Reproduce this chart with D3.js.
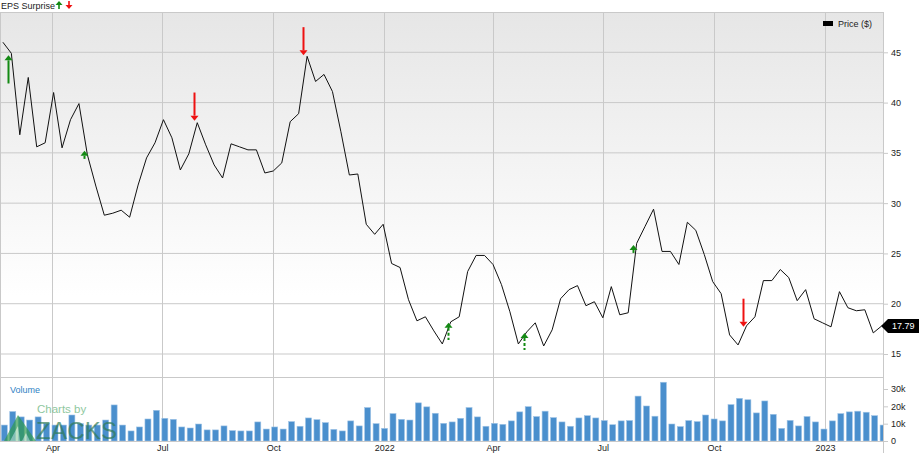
<!DOCTYPE html>
<html>
<head>
<meta charset="utf-8">
<script src="https://cdn.jsdelivr.net/npm/d3@7"></script>
<style>
html,body{margin:0;padding:0;background:#fff;}
svg{display:block;font-family:"Liberation Sans",Arial,sans-serif;}
</style>
</head>
<body>
<svg id="chart" width="920" height="453"></svg>
<script>
// ---- data ----
const startWeek = "2021-02-19";
const price = [46.0,44.9,36.8,42.5,35.6,36.0,41.0,35.5,38.3,39.9,
  34.8,31.7,28.8,29.0,29.3,28.6,31.8,34.5,36.0,38.3,
  36.5,33.3,34.9,38.0,35.8,33.8,32.5,35.9,35.6,35.3,
  35.3,33.0,33.2,34.0,38.1,38.9,44.6,42.1,42.8,41.1,
  37.1,32.8,32.9,27.9,26.9,27.9,24.0,23.6,20.4,18.3,
  18.7,17.3,16.0,18.2,18.7,23.2,24.8,24.8,23.9,21.9,
  19.2,16.0,17.2,18.1,15.8,17.4,20.5,21.4,21.8,19.8,
  20.2,18.6,21.7,18.9,19.1,26.0,27.7,29.4,25.2,25.2,
  23.9,28.1,27.3,24.9,22.2,21.0,16.9,15.9,17.8,18.7,
  22.3,22.3,23.4,22.6,20.3,21.4,18.5,18.1,17.7,21.2,
  19.6,19.3,19.4,17.1,17.79];
const volume = [9.2,17.0,13.9,12.1,13.9,10.2,9.2,9.2,15.0,10.0,
  9.2,9.2,12.1,20.8,9.2,5.8,8.1,12.7,17.7,13.1,
  12.5,8.1,7.5,9.8,6.4,6.4,8.7,6.0,5.8,5.8,
  11.0,6.9,8.1,6.9,11.2,8.5,13.3,12.3,10.6,6.7,
  5.8,11.6,8.7,19.3,10.0,7.3,15.8,12.5,12.1,22.0,
  19.7,16.0,10.2,11.0,13.1,19.3,13.9,8.5,10.2,9.6,
  11.6,16.8,19.8,14.1,17.2,13.5,11.0,8.5,13.3,14.6,
  13.3,11.8,9.4,11.6,11.8,25.9,20.2,14.3,33.9,9.8,
  8.3,11.8,11.2,15.0,12.7,11.6,21.0,24.6,23.8,16.2,
  23.1,15.4,7.3,11.9,8.7,14.1,11.0,6.9,11.6,15.8,
  16.8,17.2,16.6,14.6,9.2]; // thousands
const epsDates = ["2021-02-23","2021-04-27","2021-07-27","2021-10-26","2022-02-23","2022-04-27","2022-07-26","2022-10-25"];
const epsDir   = ["up","up","down","down","up","up","up","down"];
const epsStyle = ["solid","solid","solid","solid","dashed","dashed","solid","solid"];
const epsTip   = [44.7,35.2,38.2,44.7,18.1,17.1,25.85,17.7];
const epsSize  = [2.8,0.8,2.8,2.8,1.7,1.7,0.8,2.8];
const priceTicks = [15,20,25,30,35,40,45];
const volTicks = [0,10000,20000,30000];
const volTickLabels = ["0","10k","20k","30k"];
const xTickDates = ["2021-04-01","2021-07-01","2021-10-01","2022-01-01","2022-04-01","2022-07-01","2022-10-01","2023-01-01"];
const xTickLabels = ["Apr","Jul","Oct","2022","Apr","Jul","Oct","2023"];
const lastPriceLabel = "17.79";

// ---- setup ----
const parse = d3.timeParse("%Y-%m-%d");
const d0 = parse(startWeek);
const dates = price.map((_, i) => d3.timeDay.offset(d0, 7 * i));
const svg = d3.select("#chart");
const L = 0, R = 883, T = 12, PB = 377, VB = 441;
const GRID = "#c9c9c9";

const x = d3.scaleTime().domain([dates[0], dates[dates.length - 1]]).range([2.9, 881.7]);
const y = d3.scaleLinear().domain([15, 45]).range([354, 52.3]);
const yv = d3.scaleLinear().domain([0, 30000]).range([VB, 389]);

const defs = svg.append("defs");
const grad = defs.append("linearGradient").attr("id", "bg").attr("x1", 0).attr("y1", 0).attr("x2", 0).attr("y2", 1);
grad.append("stop").attr("offset", "0%").attr("stop-color", "#e6e6e6");
grad.append("stop").attr("offset", "78%").attr("stop-color", "#ffffff");
grad.append("stop").attr("offset", "100%").attr("stop-color", "#ffffff");
defs.append("clipPath").attr("id", "clip").append("rect").attr("x", L).attr("y", T).attr("width", R - L).attr("height", VB - T);

svg.append("rect").attr("x", L).attr("y", T).attr("width", R - L).attr("height", PB - T).attr("fill", "url(#bg)");

// horizontal grid
svg.append("g").selectAll("line").data(priceTicks).join("line")
  .attr("x1", L).attr("x2", R).attr("y1", d => y(d)).attr("y2", d => y(d))
  .attr("stroke", GRID).attr("stroke-width", 1);
// vertical grid
svg.append("g").selectAll("line").data(xTickDates).join("line")
  .attr("x1", d => Math.round(x(parse(d))) + 0.5).attr("x2", d => Math.round(x(parse(d))) + 0.5)
  .attr("y1", T).attr("y2", VB)
  .attr("stroke", GRID).attr("stroke-width", 1);
// frame lines
[T, PB, VB].forEach(v => svg.append("line").attr("x1", L).attr("x2", R).attr("y1", v + 0.5).attr("y2", v + 0.5).attr("stroke", GRID));
svg.append("line").attr("x1", 0.5).attr("x2", 0.5).attr("y1", T).attr("y2", VB).attr("stroke", GRID);

// volume bars
svg.append("g").attr("clip-path", "url(#clip)").selectAll("rect").data(volume).join("rect")
  .attr("x", (d, i) => x(dates[i]) - 1.6)
  .attr("width", 6)
  .attr("y", d => yv(d * 1000))
  .attr("height", d => VB - yv(d * 1000))
  .attr("fill", "#4a8fcd")
  .attr("stroke", "#9fc4e6").attr("stroke-width", 0.6);

// Zacks watermark (over the bars, semi-transparent)
const wm = svg.append("g").attr("opacity", 0.68);
wm.append("path").attr("d", "M4,441 L18,415 L36,441 Z").attr("fill", "#2f9a4c");
wm.append("path").attr("d", "M10,441 L18,426 L20,441 Z M22,441 L26,433 L30,441 Z").attr("fill", "#9fd4ab");
wm.append("text").attr("x", 37).attr("y", 413).attr("font-size", 11.5).attr("fill", "#5aae72").text("Charts by");
wm.append("text").attr("x", 36).attr("y", 439).attr("font-size", 24).attr("fill", "#2e7a52").attr("textLength", 81).text("ZACKS");

svg.append("text").attr("x", 10).attr("y", 393).attr("font-size", 9).attr("fill", "#2f7fc4").text("Volume");

// price line
svg.append("path").datum(price)
  .attr("d", d3.line().x((d, i) => x(dates[i])).y(d => y(d)))
  .attr("fill", "none").attr("stroke", "#111").attr("stroke-width", 1);

// EPS arrows
const eg = svg.append("g");
epsDates.forEach((ds, k) => {
  const cx = Math.round(x(parse(ds))) + 0.5;
  const tip = y(epsTip[k]);
  const len = Math.abs(y(epsTip[k] + epsSize[k]) - tip);
  const col = epsDir[k] === "up" ? "#138a13" : "#ee1111";
  const s = epsDir[k] === "up" ? 1 : -1;
  const hh = 5;
  eg.append("line").attr("x1", cx).attr("x2", cx)
    .attr("y1", tip + s * hh).attr("y2", tip + s * len)
    .attr("stroke", col).attr("stroke-width", 2)
    .attr("stroke-dasharray", epsStyle[k] === "dashed" ? "3,2" : null);
  eg.append("path").attr("d", `M${cx - 4},${tip + s * hh} L${cx},${tip} L${cx + 4},${tip + s * hh} Z`).attr("fill", col);
});

// right axes
svg.append("line").attr("x1", R + 0.5).attr("x2", R + 0.5).attr("y1", T).attr("y2", 453).attr("stroke", GRID);
const ap = svg.append("g").attr("transform", `translate(${R},0)`)
  .call(d3.axisRight(y).tickValues(priceTicks).tickSize(5).tickPadding(3));
const av = svg.append("g").attr("transform", `translate(${R},0)`)
  .call(d3.axisRight(yv).tickValues(volTicks).tickFormat((d, i) => volTickLabels[i]).tickSize(5).tickPadding(3));
[ap, av].forEach(a => {
  a.select(".domain").remove();
  a.selectAll(".tick line").attr("stroke", GRID);
  a.selectAll(".tick text").attr("font-size", 9).attr("fill", "#222").attr("font-family", "Liberation Sans, Arial, sans-serif");
});

// bottom axis
const ax = svg.append("g").attr("transform", `translate(0,${VB})`)
  .call(d3.axisBottom(x).tickValues(xTickDates.map(parse)).tickFormat((d, i) => xTickLabels[i]).tickSize(0).tickPadding(4));
ax.select(".domain").remove();
ax.selectAll(".tick text").attr("font-size", 9).attr("fill", "#222").attr("font-family", "Liberation Sans, Arial, sans-serif");

// last price tag
const ly = y(price[price.length - 1]);
svg.append("path").attr("d", `M${R - 2},${ly} L${R + 5},${ly - 7} L919,${ly - 7} L919,${ly + 7} L${R + 5},${ly + 7} Z`).attr("fill", "#000");
svg.append("text").attr("x", 892).attr("y", ly + 3.3).attr("font-size", 9).attr("fill", "#fff").text(lastPriceLabel);

// legends
svg.append("text").attr("x", 1).attr("y", 9).attr("font-size", 9).attr("fill", "#222").text("EPS Surprise");
const lg = svg.append("g");
function legArrow(cx, dir, col) {
  const tip = dir === "up" ? 1 : 9, s = dir === "up" ? 1 : -1;
  lg.append("line").attr("x1", cx).attr("x2", cx).attr("y1", tip + s * 4).attr("y2", tip + s * 8).attr("stroke", col).attr("stroke-width", 1.6);
  lg.append("path").attr("d", `M${cx - 3.5},${tip + s * 4} L${cx},${tip} L${cx + 3.5},${tip + s * 4} Z`).attr("fill", col);
}
legArrow(59, "up", "#138a13");
legArrow(69, "down", "#ee1111");
svg.append("rect").attr("x", 823).attr("y", 21).attr("width", 10).attr("height", 5).attr("fill", "#000");
svg.append("text").attr("x", 838).attr("y", 27).attr("font-size", 9).attr("fill", "#222").text("Price ($)");
</script>
</body>
</html>
